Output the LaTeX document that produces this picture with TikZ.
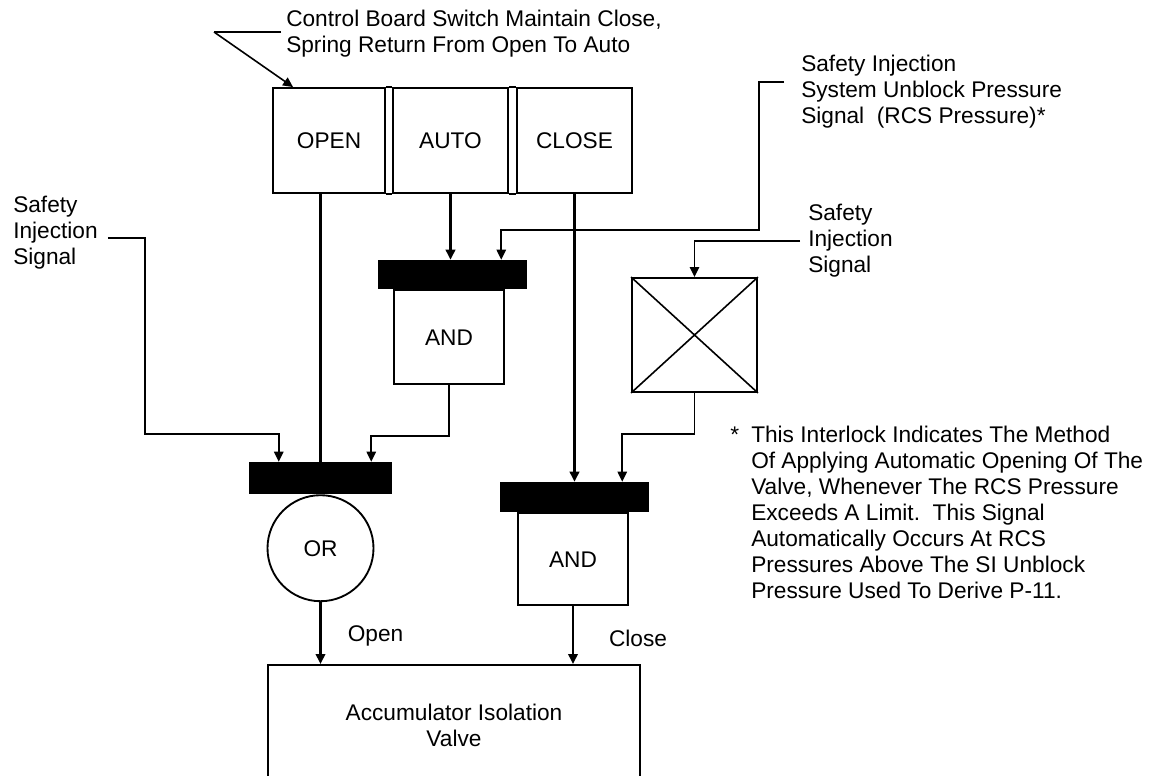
\documentclass[tikz,border=0pt]{standalone}
\usepackage{fontspec}
\setmainfont{Liberation Sans}
\usetikzlibrary{arrows.meta,calc}
\begin{document}
\begin{tikzpicture}[x=0.75pt,y=-0.75pt,>={Triangle[length=7.5pt,width=7pt]},
  every node/.style={font=\fontsize{17pt}{19.5pt}\selectfont, inner sep=0pt},
  swbox/.style={draw, line width=1.4pt, minimum height=78.75pt},
  gatebox/.style={draw, line width=1.4pt, minimum width=82.5pt},
  bar/.style={fill=black, minimum width=111.75pt},
  lbl/.style={align=left, anchor=west},
  thin/.style={line width=1.2pt},
  thick/.style={line width=2pt}]
 \useasboundingbox (0,0) rectangle (1153,775);
 \clip (0,0) rectangle (1153,775);
 \node[swbox, minimum width=84pt] (open) at (329,140.5) {OPEN};
 \node[swbox, minimum width=86.25pt] (auto) at (450.5,140.5) {AUTO};
 \node[swbox, minimum width=86.25pt] (close) at (574.5,140.5) {CLOSE};
 \draw[line width=1.4pt] (open.north east) -- (auto.north west) (open.south east) -- (auto.south west)
   (auto.north east) -- (close.north west) (auto.south east) -- (close.south west);
 \node[lbl] (swnote) at (286,34) {Control Board Switch Maintain Close,\\Spring Return From Open To Auto};
 \node[lbl] (sis) at (801,92) {Safety Injection\\System Unblock Pressure\\Signal\ \ (RCS Pressure)*};
 \node[lbl] (sileft) at (13,233) {Safety\\Injection\\Signal};
 \node[lbl] (siright) at (808,241) {Safety\\Injection\\Signal};
 \node[bar, minimum height=21.75pt] (and1bar) at (452.5,274.5) {};
 \node[gatebox, minimum height=70.5pt, anchor=north] (and1) at ($(and1bar.south)+(-3.5,0)$) {AND};
 \node[bar, minimum width=107.25pt, minimum height=24pt] (orbar) at (320.5,478) {};
 \node[draw, circle, line width=1.4pt, minimum size=79.5pt, anchor=north] (or) at (orbar.south) {OR};
 \node[draw, line width=1.4pt, minimum width=93.75pt, minimum height=85.5pt] (cross) at (694.5,335) {};
 \draw[line width=1.2pt] (cross.north west) -- (cross.south east) (cross.north east) -- (cross.south west);
 \node[bar, minimum height=22.5pt] (and2bar) at (574.5,497) {};
 \node[gatebox, minimum height=69pt, anchor=north] (and2) at ($(and2bar.south)+(-1.5,0)$) {AND};
 \node[draw, line width=1.4pt, minimum width=279pt, minimum height=90pt, anchor=north, align=center] (valve) at (454,664) {Accumulator Isolation\\Valve};
 \node[lbl, anchor=north west] (note) at (751,426) {\llap{*\hspace{9pt}}This Interlock Indicates The Method\\Of Applying Automatic Opening Of The\\Valve, Whenever The RCS Pressure\\Exceeds A Limit.\ \ This Signal\\Automatically Occurs At RCS\\Pressures Above The SI Unblock\\Pressure Used To Derive P-11.};
 \draw[thin] ($(swnote.west)+(-5,-2)$) -- ++(-67,0) coordinate (bend);
 \draw[thin, ->] (bend) -- ($(open.north west)+(21,0)$);
 \draw[line width=1.6pt] (orbar.north) -- (orbar.north |- open.south);
 \draw[thick, ->] (auto.south) -- (auto.south |- and1bar.north);
 \draw[thick, ->] (close.south) -- (close.south |- and2bar.north);
 \draw[thin, ->] ($(sis.west)+(-17,-10)$) -- ++(-25,0) -- ++(0,148) -| ($(and1bar.north east)+(-26,0)$);
 \draw[thin, ->] ($(sileft.east)+(10,5)$) -- ++(37,0) -- ++(0,196) -| ($(orbar.north west)+(30,0)$);
 \draw[thin, ->] (and1.south) -- ++(0,51) -| ($(orbar.north east)+(-21,0)$);
 \draw[thin, ->] ($(siright.west)+(-8,0)$) -| (cross.north);
 \draw[thin, ->] (cross.south) -- ++(0,41) -| ($(and2bar.north east)+(-27,0)$);
 \draw[thick, ->] (or.south) -- node[pos=0.55, anchor=west, xshift=19.5pt] (openlbl) {Open} (or.south |- valve.north);
 \draw[thick, ->] (and2.south) -- node[pos=0.55, anchor=west, xshift=26pt] (closelbl) {Close} (and2.south |- valve.north);
\end{tikzpicture}
\end{document}
